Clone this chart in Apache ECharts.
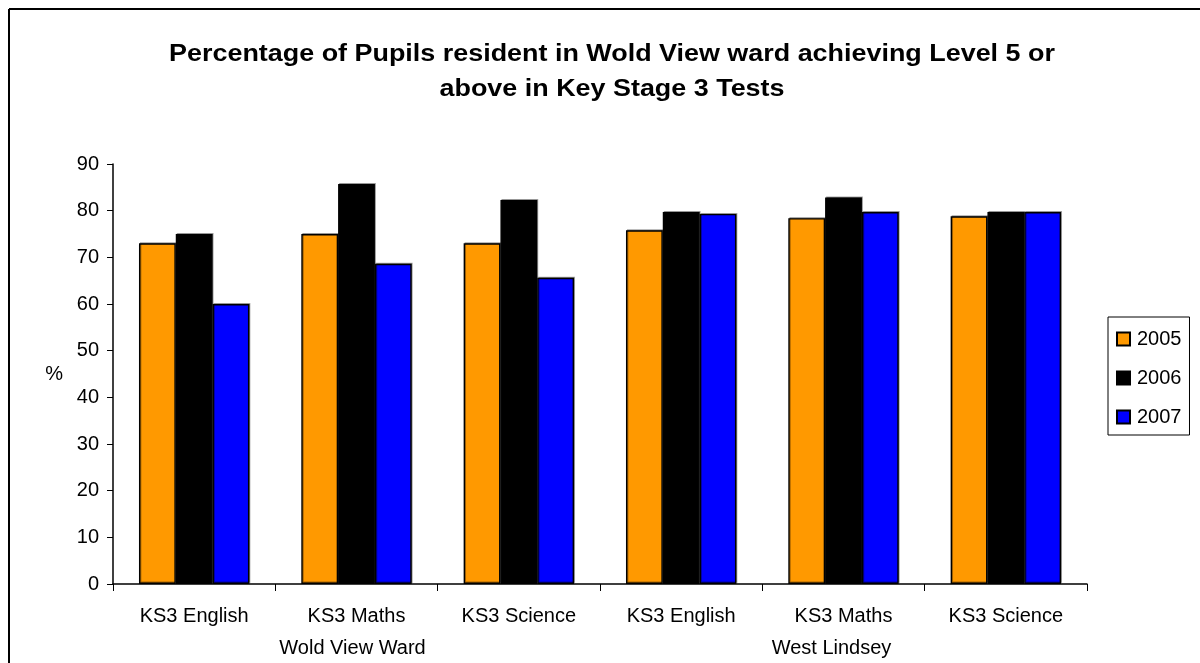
<!DOCTYPE html>
<html>
<head>
<meta charset="utf-8">
<script src="https://cdn.jsdelivr.net/npm/echarts@6/dist/echarts.min.js"></script>
<style>
html,body{margin:0;padding:0;background:#fff;}
#chart{width:1200px;height:663px;}
</style>
</head>
<body>
<div id="chart"></div>
<script>
const categories = ['KS3 English','KS3 Maths','KS3 Science','KS3 English','KS3 Maths','KS3 Science'];
const groups = ['Wold View Ward','West Lindsey'];
const seriesNames = ['2005','2006','2007'];
const values2005 = [73, 75, 73, 75.8, 78.4, 78.8];
const values2006 = [75, 85.7, 82.3, 79.7, 82.8, 79.7];
const values2007 = [60, 68.6, 65.6, 79.3, 79.7, 79.7];
const titleLines = ['Percentage of Pupils resident in Wold View ward achieving Level 5 or', 'above in Key Stage 3 Tests'];
const colors = ['#FF9900', '#000000', '#0000FF'];

const FONT = '"Liberation Sans", Arial, sans-serif';
const chart = echarts.init(document.getElementById('chart'), null, {renderer:'canvas'});
const allValues = [values2005, values2006, values2007];

chart.setOption({
  animation: false,
  backgroundColor: '#fff',
  textStyle: { fontFamily: FONT, color: '#000' },
  legend: {
    orient: 'vertical',
    left: 1108, top: 317,
    padding: [12, 8, 8, 8],
    borderColor: '#000', borderWidth: 1,
    itemWidth: 13, itemHeight: 13, itemGap: 19,
    textStyle: { fontFamily: FONT, fontSize: 20, color: '#000', padding: [0,0,0,2] },
    data: seriesNames.map(n => ({ name: n, icon: 'rect' }))
  },
  grid: { left: 113, right: 113, top: 164, bottom: 79, containLabel: false },
  xAxis: [{
    type: 'category',
    data: categories,
    axisLine: { lineStyle: { color: '#000', width: 1.5 } },
    axisTick: { show: true, length: 7, lineStyle: { color: '#000' } },
    axisLabel: { color: '#000', fontSize: 20, fontFamily: FONT, margin: 22 }
  }, {
    type: 'category',
    data: groups,
    position: 'bottom',
    offset: 32,
    axisLine: { show: false },
    axisTick: { show: false },
    axisLabel: {
      color: '#000', fontSize: 20, fontFamily: FONT, margin: 22,
      formatter: (v, i) => i === 0 ? '{a|' + v + '}' : '{b|' + v + '}',
      rich: {
        a: { fontSize: 20, fontFamily: FONT, color: '#000', padding: [0, 8, 0, 0] },
        b: { fontSize: 20, fontFamily: FONT, color: '#000', padding: [0, 24, 0, 0] }
      }
    }
  }],
  yAxis: {
    type: 'value', min: 0, max: 90, interval: 10,
    name: '%', nameLocation: 'middle', nameRotate: 0, nameGap: 50,
    nameTextStyle: { color: '#000', fontSize: 20, fontFamily: FONT },
    axisLine: { show: true, lineStyle: { color: '#000', width: 1.5 } },
    axisTick: { show: true, length: 6, lineStyle: { color: '#000' } },
    axisLabel: { color: '#000', fontSize: 20, fontFamily: FONT, margin: 14 },
    splitLine: { show: false }
  },
  series: seriesNames.map((n, i) => ({
    name: n, type: 'bar', xAxisIndex: 0,
    data: allValues[i],
    barGap: '0%', barCategoryGap: '32%',
    itemStyle: { color: colors[i], borderColor: '#000', borderWidth: 1.4,
      shadowColor: 'rgba(0,0,0,0.35)', shadowOffsetX: 1, shadowOffsetY: -1 }
  })),
  graphic: [
    { type: 'line', shape: { x1: 9, y1: 9, x2: 1200, y2: 9 }, style: { stroke: '#000', lineWidth: 2 } },
    { type: 'line', shape: { x1: 9, y1: 9, x2: 9, y2: 663 }, style: { stroke: '#000', lineWidth: 2 } },
    { type: 'text', x: 612, y: 55, scaleX: 1.17,
      style: { text: titleLines[0], fontFamily: FONT, fontSize: 23, fontWeight: 'bold', fill: '#000', textAlign: 'center', textVerticalAlign: 'middle' } },
    { type: 'text', x: 612, y: 90, scaleX: 1.17,
      style: { text: titleLines[1], fontFamily: FONT, fontSize: 23, fontWeight: 'bold', fill: '#000', textAlign: 'center', textVerticalAlign: 'middle' } }
  ]
});
</script>
</body>
</html>
